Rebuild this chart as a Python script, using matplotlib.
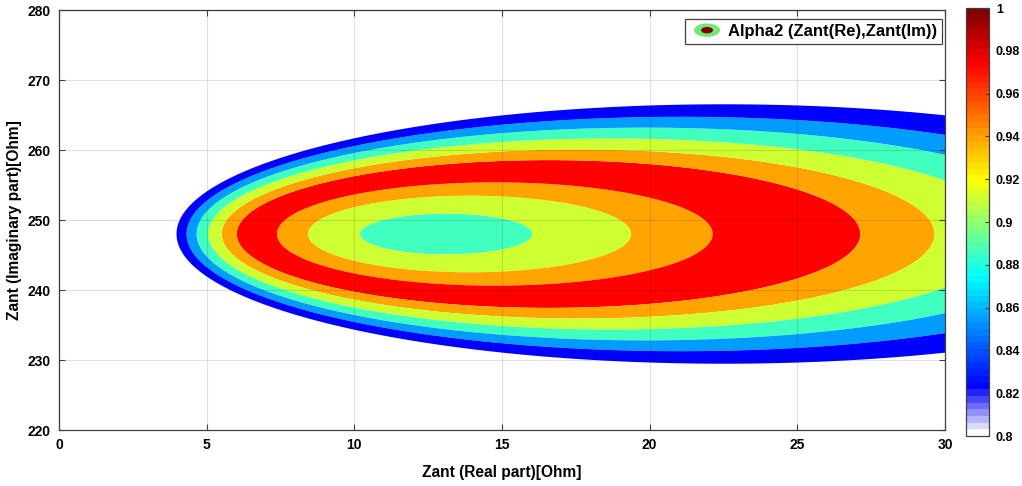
import numpy as np
import matplotlib.pyplot as plt
from matplotlib.colors import LinearSegmentedColormap, Normalize
from matplotlib.cm import ScalarMappable
from matplotlib.patches import Ellipse
from matplotlib.legend_handler import HandlerBase

plt.rcParams['font.family'] = ['Liberation Sans', 'DejaVu Sans']
plt.rcParams['font.weight'] = 'bold'

# source impedance (conjugate match point) read from the circle family
src_R = 12.78
src_X = 248.0

gamma_edges = [0.0, 0.1128, 0.2051, 0.2679, 0.3596, 0.3975, 0.4335, 0.4656, 0.4947, 0.5251]
# Alpha2 value (colour) of each band, from centre outwards
band_alpha = [0.885, 0.91, 0.94, 0.972, 0.94, 0.91, 0.885, 0.855, 0.825]

cbar_ticks = [0.8, 0.82, 0.84, 0.86, 0.88, 0.9, 0.92, 0.94, 0.96, 0.98, 1.0]
cbar_labels = ['0.8', '0.82', '0.84', '0.86', '0.88', '0.9', '0.92', '0.94', '0.96', '0.98', '1']

x_ticks = [0, 5, 10, 15, 20, 25, 30]
y_ticks = [220, 230, 240, 250, 260, 270, 280]

# white -> blue, then jet-like
anchors = [(0.0, (1, 1, 1)), (0.11, (0, 0, 1)), (0.37, (0, 1, 1)),
           (0.6, (1, 1, 0)), (0.875, (1, 0, 0)), (1.0, (0.5, 0, 0))]
cmap = LinearSegmentedColormap.from_list('alpha_cmap', anchors, N=64)
norm = Normalize(0.8, 1.0)


class HandlerBlob(HandlerBase):
    def create_artists(self, legend, orig_handle, xdescent, ydescent,
                       width, height, fontsize, trans):
        cx = 0.5 * width - xdescent
        cy = 0.5 * height - ydescent
        outer = Ellipse((cx, cy), width * 0.78, height * 1.1,
                        facecolor='#72e872', edgecolor='none', transform=trans)
        inner = Ellipse((cx, cy), width * 0.36, height * 0.52,
                        facecolor='#7a0000', edgecolor='none', transform=trans)
        return [outer, inner]


fig = plt.figure(figsize=(10.22, 4.86), dpi=100)
ax = fig.add_axes([59 / 1022, 56 / 486, 886 / 1022, 420 / 486])
cax = fig.add_axes([966 / 1022, 50 / 486, 23 / 1022, 428 / 486])

R = np.linspace(0, 30, 1500)
X = np.linspace(220, 280, 900)
RR, XX = np.meshgrid(R, X)
gamma = np.hypot(RR - src_R, XX - src_X) / np.hypot(RR + src_R, XX - src_X)

band_colors = [cmap(norm(a)) for a in band_alpha]
ax.contourf(RR, XX, gamma, levels=gamma_edges, colors=band_colors, antialiased=True)

ax.set_xlim(0, 30)
ax.set_ylim(220, 280)
ax.set_xticks(x_ticks)
ax.set_yticks(y_ticks)
ax.set_axisbelow(False)
ax.grid(True, color='k', alpha=0.12, linewidth=0.8)
ax.tick_params(direction='in', top=True, right=True, length=4, labelsize=10,
               color='#404040', pad=6)
for s in ax.spines.values():
    s.set_color('#404040')
    s.set_linewidth(0.9)

ax.set_xlabel('Zant (Real part)[Ohm]', fontsize=11.2, fontweight='bold', labelpad=9)
ax.set_ylabel('Zant (Imaginary part)[Ohm]', fontsize=11.2, fontweight='bold', labelpad=4)

leg = ax.legend([Ellipse((0, 0), 1, 1)], ['Alpha2 (Zant(Re),Zant(Im))'],
                handler_map={Ellipse: HandlerBlob()},
                loc='upper right', bbox_to_anchor=(0.9966, 0.9786), borderaxespad=0,
                fancybox=False, framealpha=1, edgecolor='#404040',
                prop={'size': 12, 'weight': 'bold'},
                handlelength=2.0, handleheight=0.75, handletextpad=0.25,
                borderpad=0.3)
leg.get_frame().set_linewidth(0.9)

cb = fig.colorbar(ScalarMappable(norm=norm, cmap=cmap), cax=cax)
cb.set_ticks(cbar_ticks)
cb.set_ticklabels(cbar_labels)
cb.ax.tick_params(labelsize=9, direction='in', length=3, color='#404040', pad=5)
cb.outline.set_edgecolor('#404040')
cb.outline.set_linewidth(0.9)

fig.savefig('out.png', dpi=100)
